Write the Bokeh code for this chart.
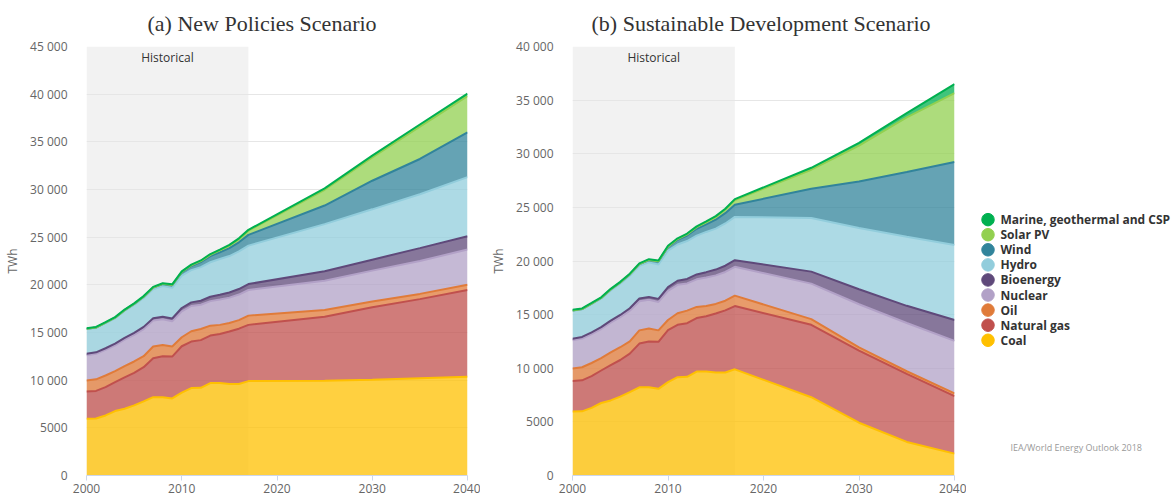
from bokeh.plotting import figure
from bokeh.models import ColumnDataSource, BoxAnnotation, Label, FixedTicker, Range1d
from bokeh.core.properties import value
from bokeh.layouts import row
from bokeh.embed import file_html
from bokeh.resources import INLINE

# ---------------- data (TWh) ----------------
years_hist = list(range(2000, 2018))
years_proj = [2025, 2030, 2035, 2040]
years = years_hist + years_proj

series = ["Coal", "Natural gas", "Oil", "Nuclear", "Bioenergy", "Hydro", "Wind",
          "Solar PV", "Marine, geothermal and CSP"]
keys = ["coal", "gas", "oil", "nuclear", "bio", "hydro", "wind", "solar", "marine"]
colors = ["#ffc000", "#c0504d", "#e07b39", "#b2a1c7", "#5f497a", "#92cddc", "#31849b",
          "#92d050", "#00b050"]

coal_hist = [5960, 5980, 6300, 6760, 7000, 7350, 7770, 8220, 8220, 8080, 8700, 9170, 9200, 9690, 9700, 9600, 9600, 9900]
gas_hist = [2860, 2890, 2970, 3030, 3300, 3420, 3590, 4080, 4280, 4390, 4860, 4880, 5000, 4990, 5150, 5500, 5800, 5900]
oil_hist = [1150, 1220, 1220, 1150, 1170, 1190, 1150, 1230, 1200, 1060, 940, 1080, 1170, 1040, 950, 900, 900, 970]
nuclear_hist = [2640, 2680, 2700, 2720, 2780, 2800, 2850, 2720, 2680, 2650, 2720, 2650, 2540, 2570, 2660, 2660, 2680, 2690]
bio_hist = [150, 150, 160, 170, 190, 210, 230, 250, 270, 290, 350, 380, 420, 460, 500, 540, 580, 620]
hydro_hist = [2600, 2560, 2630, 2660, 2820, 2920, 3030, 3040, 3220, 3210, 3400, 3380, 3530, 3620, 3750, 3820, 3940, 4030]
wind_hist = [30, 40, 50, 60, 80, 100, 130, 170, 220, 280, 340, 440, 520, 640, 710, 830, 960, 1130]
solar_hist = [1, 2, 2, 3, 3, 4, 6, 8, 12, 20, 32, 63, 100, 140, 190, 250, 330, 440]
marine_hist = [55, 58, 58, 60, 62, 63, 64, 66, 67, 70, 73, 75, 77, 80, 84, 86, 88, 92]

# New Policies Scenario projections (2025, 2030, 2035, 2040)
coal_nps = [9950, 10050, 10200, 10350]
gas_nps = [6700, 7600, 8300, 9100]
oil_nps = [700, 600, 550, 550]
nuclear_nps = [3070, 3240, 3450, 3700]
bio_nps = [1000, 1150, 1350, 1400]
hydro_nps = [4950, 5280, 5650, 6200]
wind_nps = [1950, 3000, 3700, 4700]
solar_nps = [1650, 2450, 3400, 3800]
marine_nps = [150, 180, 220, 250]

# Sustainable Development Scenario projections (2025, 2030, 2035, 2040)
coal_sds = [7300, 4920, 3130, 2040]
gas_sds = [6750, 6720, 6340, 5360]
oil_sds = [530, 300, 250, 250]
nuclear_sds = [3310, 4030, 4500, 4900]
bio_sds = [1120, 1400, 1600, 1950]
hydro_sds = [5000, 5700, 6450, 7000]
wind_sds = [2730, 4340, 6020, 7740]
solar_sds = [1770, 3350, 5100, 6410]
marine_sds = [180, 250, 400, 850]

hist = [coal_hist, gas_hist, oil_hist, nuclear_hist, bio_hist, hydro_hist, wind_hist, solar_hist, marine_hist]
nps = [coal_nps, gas_nps, oil_nps, nuclear_nps, bio_nps, hydro_nps, wind_nps, solar_nps, marine_nps]
sds = [coal_sds, gas_sds, oil_sds, nuclear_sds, bio_sds, hydro_sds, wind_sds, solar_sds, marine_sds]

x_ticks = [2000, 2010, 2020, 2030, 2040]
hist_start, hist_end = 2000, 2017

FONT = "Open Sans"
H = 498
FRAME_H = H - 45 - 23


def fmt(v):
    return str(v) if v < 10000 else f"{v:,}".replace(",", " ")


def build(title_text, proj, ymax, width, border_left, border_right, title_offset):
    data = {"year": years}
    for k, h, pr in zip(keys, hist, proj):
        data[k] = h + pr
    src = ColumnDataSource(data)

    p = figure(width=width, height=H, x_range=Range1d(2000, 2040), y_range=Range1d(0, ymax),
               output_backend="svg", toolbar_location=None, title=title_text,
               min_border_left=border_left, min_border_right=border_right,
               min_border_top=45, min_border_bottom=23)
    p.outline_line_color = None
    p.background_fill_color = "white"
    p.border_fill_color = "white"

    p.title.align = "left"
    p.title.offset = title_offset
    p.title.vertical_align = "middle"
    p.title.text_font = "Liberation Serif"
    p.title.text_font_size = "22px"
    p.title.text_font_style = "normal"
    p.title.text_color = "#333333"
    p.title.standoff = 19

    band = BoxAnnotation(left=hist_start, right=hist_end, fill_color="#f2f2f2", fill_alpha=1.0,
                         line_color=None, level="underlay")
    p.center = [band] + list(p.center)

    p.varea_stack(stackers=keys, x="year", fill_color=colors, fill_alpha=0.75, source=src)
    p.vline_stack(stackers=keys, x="year", line_color=colors, line_width=2, source=src)

    p.xgrid.visible = False
    p.ygrid.grid_line_color = "#e6e6e6"
    p.ygrid.ticker = FixedTicker(ticks=list(range(0, ymax + 1, 5000)))

    yax = p.yaxis[0]
    yax.ticker = FixedTicker(ticks=list(range(0, ymax + 1, 5000)))
    yax.major_label_overrides = {v: fmt(v) for v in range(0, ymax + 1, 5000)}
    yax.axis_line_color = None
    yax.major_tick_line_color = None
    yax.minor_tick_line_color = None
    yax.major_tick_out = 0
    yax.major_tick_in = 0
    yax.major_label_standoff = 19
    yax.major_label_text_font = FONT
    yax.major_label_text_font_size = "12px"
    yax.major_label_text_color = "#666666"
    yax.axis_label = "TWh"
    yax.axis_label_text_font = FONT
    yax.axis_label_text_font_size = "12px"
    yax.axis_label_text_font_style = "normal"
    yax.axis_label_text_color = "#666666"
    yax.axis_label_standoff = 6

    xax = p.xaxis[0]
    xax.ticker = FixedTicker(ticks=x_ticks)
    xax.axis_line_color = "#ccd6eb"
    xax.major_tick_line_color = "#ccd6eb"
    xax.minor_tick_line_color = None
    xax.major_tick_out = 5
    xax.major_tick_in = 0
    xax.major_label_standoff = 3
    xax.major_label_text_font = FONT
    xax.major_label_text_font_size = "12px"
    xax.major_label_text_color = "#666666"

    lab = Label(x=(hist_start + hist_end) / 2, y=FRAME_H - 12, x_units="data", y_units="screen",
                text="Historical", text_align="center", text_baseline="middle",
                text_font=FONT, text_font_size="12px", text_color="#333333")
    p.add_layout(lab)
    return p


p1 = build("(a) New Policies Scenario", nps, 45000, 480, 86, 13, 61)
p2 = build("(b) Sustainable Development Scenario", sds, 40000, 486, 92, 12, 19)

# ---------------- legend panel (pixel coordinates) ----------------
LW = 1174 - 480 - 486
p3 = figure(width=LW, height=H, x_range=Range1d(0, LW), y_range=Range1d(H, 0),
            output_backend="svg", toolbar_location=None, x_axis_type=None, y_axis_type=None,
            min_border=0)
p3.outline_line_color = None
p3.grid.visible = False

legend_names = list(reversed(series))
legend_colors = list(reversed(colors))
row_y = [201 + 17.5 * i for i in range(len(legend_names))]
lsrc = ColumnDataSource(dict(y=row_y, name=legend_names, color=legend_colors))
p3.scatter(x=21.5, y="y", size=12.5, marker="circle", fill_color="color", line_color="color",
           source=lsrc)
p3.text(x=34, y="y", text="name", source=lsrc, text_baseline="middle", text_align="left",
        text_font=value(FONT), text_font_size="12px", text_font_style="bold",
        text_color="#333333")

foot = Label(x=44, y=466, text="IEA/World Energy Outlook 2018", text_align="left",
             text_baseline="middle", text_font=FONT, text_font_size="9px", text_color="#999999")
p3.add_layout(foot)

layout = row(p1, p2, p3)
open("out.html", "w").write(file_html(layout, INLINE))
